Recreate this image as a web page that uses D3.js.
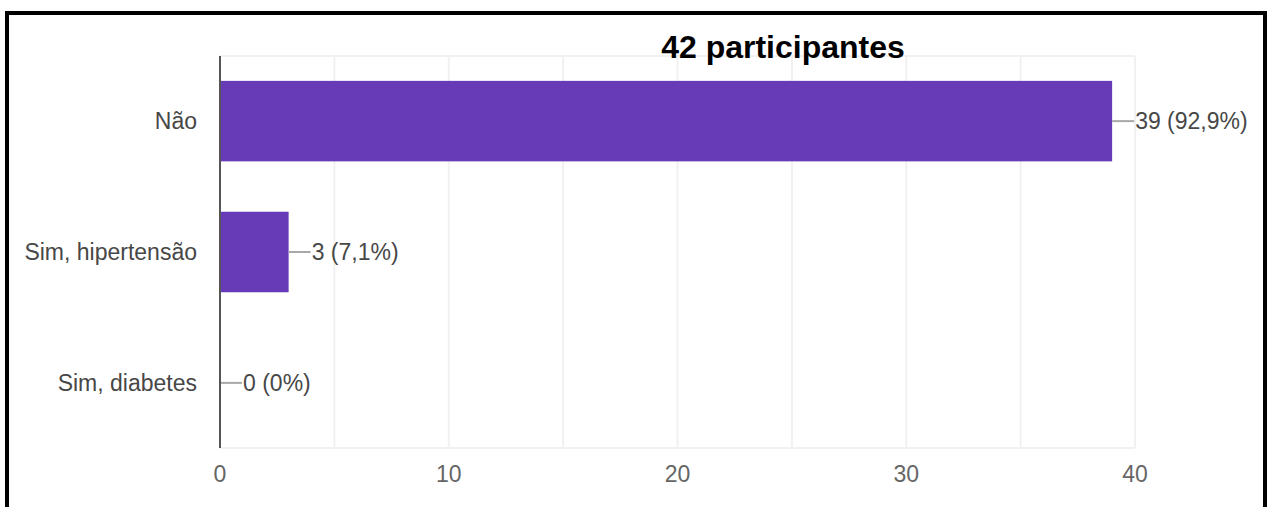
<!DOCTYPE html>
<html>
<head>
<meta charset="utf-8">
<script src="https://cdnjs.cloudflare.com/ajax/libs/d3/7.8.5/d3.min.js"></script>
<style>
  body { margin: 0; background: #fff; }
  svg { display: block; font-family: "Liberation Sans", Arial, sans-serif; }
</style>
</head>
<body>
<svg id="chart"></svg>
<script>
var categories = ["Não", "Sim, hipertensão", "Sim, diabetes"];
var counts = [39, 3, 0];
var percents = ["92,9%", "7,1%", "0%"];
var ticks = [0, 10, 20, 30, 40];
var title = "42 participantes";

var W = 1268, H = 507;
var margin = {top: 56, right: 133, bottom: 59, left: 220};
var width = W - margin.left - margin.right,
    height = H - margin.top - margin.bottom;

var root = d3.select("#chart").attr("width", W).attr("height", H);

//Outer frame
root.append("rect")
  .attr("x", 7).attr("y", 13)
  .attr("width", 1258).attr("height", 520)
  .attr("fill", "none")
  .attr("stroke", "#000")
  .attr("stroke-width", 4);

var svg = root.append("g")
  .attr("transform", "translate(" + margin.left + "," + margin.top + ")");

var x = d3.scaleLinear().domain([0, 40]).range([0, width]);
var y = d3.scaleBand().domain(categories).range([0, height]).paddingInner(0.385).paddingOuter(0.19);

//Gridlines every 5
svg.append("g")
  .selectAll("line")
  .data(d3.range(5, 41, 5))
  .enter().append("line")
    .attr("x1", function(d){ return x(d); })
    .attr("x2", function(d){ return x(d); })
    .attr("y1", 0).attr("y2", height)
    .style("stroke", "#f1f1f1")
    .style("stroke-width", 2);

svg.append("line")
  .attr("x1", 0).attr("x2", width)
  .attr("y1", 0).attr("y2", 0)
  .style("stroke", "#f1f1f1").style("stroke-width", 2);

svg.append("line")
  .attr("x1", 0).attr("x2", width)
  .attr("y1", height).attr("y2", height)
  .style("stroke", "#f1f1f1").style("stroke-width", 2);

//Bars
var data = categories.map(function(c, i){ return {cat: c, v: counts[i], p: percents[i]}; });

svg.selectAll(".bar")
  .data(data)
  .enter().append("rect")
    .attr("class", "bar")
    .attr("x", 0)
    .attr("y", function(d){ return y(d.cat); })
    .attr("width", function(d){ return x(d.v); })
    .attr("height", y.bandwidth())
    .style("fill", "#673ab7");

//Leader lines + value labels
svg.selectAll(".lead")
  .data(data)
  .enter().append("line")
    .attr("x1", function(d){ return x(d.v); })
    .attr("x2", function(d){ return x(d.v) + 22; })
    .attr("y1", function(d){ return y(d.cat) + y.bandwidth() / 2; })
    .attr("y2", function(d){ return y(d.cat) + y.bandwidth() / 2; })
    .style("stroke", "#a8a8a8")
    .style("stroke-width", 2);

svg.selectAll(".val")
  .data(data)
  .enter().append("text")
    .attr("x", function(d){ return x(d.v) + 23; })
    .attr("y", function(d){ return y(d.cat) + y.bandwidth() / 2; })
    .attr("dy", "0.36em")
    .style("font-size", "23px")
    .style("fill", "#474747")
    .text(function(d){ return d.v + " (" + d.p + ")"; });

//Category labels
svg.selectAll(".cat")
  .data(categories)
  .enter().append("text")
    .attr("x", -23)
    .attr("y", function(d){ return y(d) + y.bandwidth() / 2; })
    .attr("dy", "0.36em")
    .attr("text-anchor", "end")
    .style("font-size", "23px")
    .style("fill", "#474747")
    .text(function(d){ return d; });

//X tick labels
svg.selectAll(".tick-label")
  .data(ticks)
  .enter().append("text")
    .attr("x", function(d){ return x(d); })
    .attr("y", height + 26)
    .attr("dy", "0.36em")
    .attr("text-anchor", "middle")
    .style("font-size", "23px")
    .style("fill", "#666")
    .text(function(d){ return d; });

//Left axis line
svg.append("line")
  .attr("x1", 0).attr("x2", 0)
  .attr("y1", 0).attr("y2", height)
  .style("stroke", "#555")
  .style("stroke-width", 2);

//Title
root.append("text")
  .attr("x", 783)
  .attr("y", 46)
  .attr("dy", "0.36em")
  .attr("text-anchor", "middle")
  .style("font-size", "32px")
  .style("font-weight", "bold")
  .style("fill", "#000")
  .text(title);
</script>
</body>
</html>
